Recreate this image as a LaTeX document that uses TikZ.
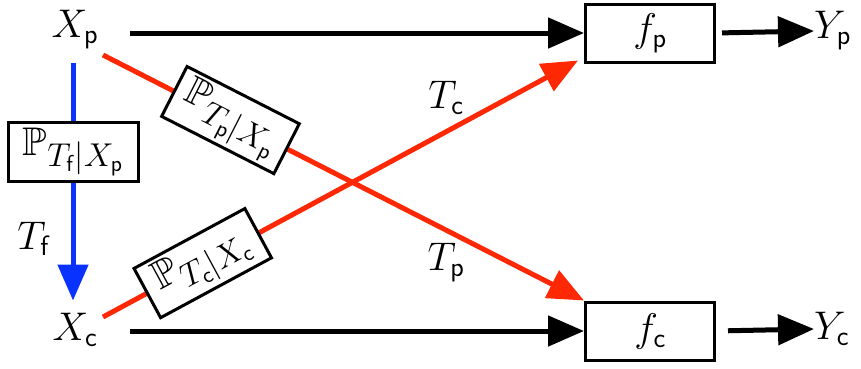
\RequirePackage{fix-cm}
\documentclass[tikz,border=0pt]{standalone}
\usepackage{amssymb}
\usetikzlibrary{arrows.meta}
\definecolor{myred}{RGB}{255,40,5}
\definecolor{myblue}{RGB}{10,50,255}
\newcommand\condsub[1]{\mbox{\fontsize{33}{38}\selectfont$#1$}}
\begin{document}
\begin{tikzpicture}[x=1pt,y=-1pt,
  lab/.style={inner sep=0pt,font=\fontsize{40}{48}\selectfont},
  fbox/.style={draw=black,line width=3pt,minimum width=129pt,minimum height=58pt,inner sep=0pt,font=\fontsize{40}{48}\selectfont},
  pbox/.style={draw=black,text=black,line width=3pt,fill=white,inner sep=2pt,minimum width=126pt,minimum height=56pt,font=\fontsize{40}{48}\selectfont},
  conn/.style={line width=5pt,-{Triangle[length=36pt,width=30pt]}},
  redconn/.style={conn,color=myred},
  blueconn/.style={conn,color=myblue},
  blackconn/.style={conn,color=black}]
\useasboundingbox (0,0) rectangle (861,368);
\node[lab] (Xp) at (75,30) {$X_{\mathsf{p}}$};
\node[lab] (Xc) at (75,330) {$X_{\mathsf{c}}$};
\node[fbox] (fp) at (650,33) {$f_{\mathsf{p}}$};
\node[fbox] (fc) at (650,331) {$f_{\mathsf{c}}$};
\node[lab,anchor=west] (Yp) at (814,31) {$Y_{\mathsf{p}}$};
\node[lab,anchor=west] (Yc) at (814,329) {$Y_{\mathsf{c}}$};
\coordinate (ps) at (103,55);
\coordinate (cs) at (103,317);
\coordinate (bs) at (73,63);
\coordinate (bl) at (130,0);
\draw[blackconn] (bl|-fp.west) -- (fp.west);
\draw[blackconn] (bl|-fc.west) -- (fc.west);
\draw[blackconn,shorten <=6pt] (fp.east) -- (Yp.west);
\draw[blackconn,shorten <=12pt] (fc.east) -- (Yc.west);
\draw[redconn] (ps) -- (fc.north west) node[pbox,sloped,pos=0.265] (pp) {$\mathbb{P}_{\condsub{T_{\mathsf{p}}|X_{\mathsf{p}}}}$};
\draw[redconn] (cs) -- ([xshift=-6pt,yshift=3pt]fp.south west) node[pbox,sloped,pos=0.21] (pc) {$\mathbb{P}_{\condsub{T_{\mathsf{c}}|X_{\mathsf{c}}}}$};
\draw[blueconn] (bs) -- (bs|-fc.north) node[pbox,pos=0.375,minimum width=130pt,minimum height=59pt] (pf) {$\mathbb{P}_{\condsub{T_{\mathsf{f}}|X_{\mathsf{p}}}}$};
\node[lab] (Tc) at (446,98) {$T_{\mathsf{c}}$};
\node[lab] (Tp) at (446,263) {$T_{\mathsf{p}}$};
\node[lab] (Tf) at (34,239) {$T_{\mathsf{f}}$};
\end{tikzpicture}
\end{document}
